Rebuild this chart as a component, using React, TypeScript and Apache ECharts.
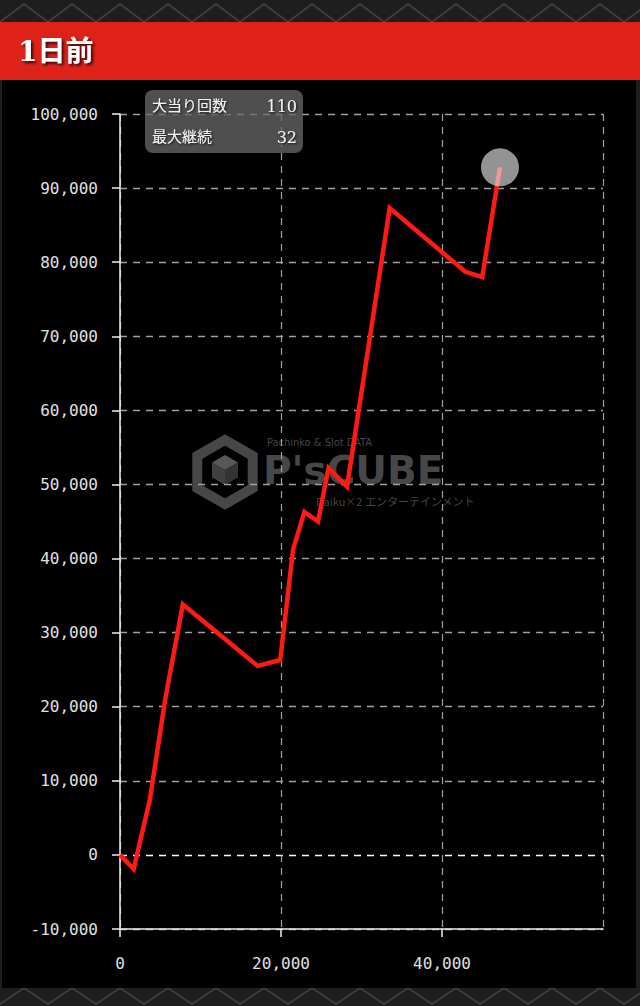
import React, { useEffect, useRef } from 'react';
import * as echarts from 'echarts';

// ---- data ----
const spins = [0, 1700, 3700, 5600, 7800, 12400, 17100, 19900, 21500, 22900, 24600, 25900, 28200, 33500, 42900, 45000, 47200];
const diff = [0, -1900, 7400, 20900, 33800, 29700, 25500, 26300, 41200, 46300, 45000, 52200, 49700, 87300, 78700, 78000, 92800];
const xRange = [0, 60000];
const xInterval = 20000;
const yRange = [-10000, 100000];
const yInterval = 10000;
const title = '1日前';
const statLabels = ['大当り回数', '最大継続'];
const statValues = ['110', '32'];

const fmt = (v: number) => String(v).replace(/\B(?=(\d{3})+(?!\d))/g, ',');

function zigzag(y0: number, y1: number, period: number) {
  const pts: number[][] = [];
  for (let x = -period, i = 0; x <= 640 + period; x += period / 2, i++) {
    pts.push([x, i % 2 === 0 ? y1 : y0]);
  }
  return pts;
}

function hexPoints(cx: number, cy: number, r: number) {
  const pts: number[][] = [];
  for (let k = 0; k < 6; k++) {
    const a = ((-90 + 60 * k) * Math.PI) / 180;
    pts.push([cx + r * Math.cos(a), cy + r * Math.sin(a)]);
  }
  return pts;
}

export default function App() {
  const ref = useRef<HTMLDivElement>(null);
  useEffect(() => {
    document.body.style.margin = '0';
    const chart = echarts.init(ref.current!, undefined, { renderer: 'svg' });
    const mono = "'DejaVu Sans Mono', monospace";
    const serif = "'DejaVu Serif', 'Noto Sans CJK JP', serif";
    const wm = 'rgba(95,95,95,0.75)';
    const cx = 225, cy = 472;
    const inner = hexPoints(cx, cy - 2, 15);
    const c = [cx, cy - 2];
    // split-line colours: the line at value 0 is white, the rest grey
    const nLines = Math.round((yRange[1] - yRange[0]) / yInterval) + 1;
    const ySplitColors = Array.from({ length: nLines }, (_, i) =>
      yRange[0] + i * yInterval === 0 ? '#ffffff' : '#a0a0a0'
    );
    const option: any = {
      animation: false,
      backgroundColor: '#1c1c1c',
      graphic: [
        { type: 'rect', z: -20, silent: true, shape: { x: 0, y: 0, width: 640, height: 1006 }, style: { fill: '#1e1e1e' } },
        { type: 'polyline', z: -19, silent: true, shape: { points: zigzag(4, 22, 48) }, style: { stroke: '#3c3c3c', lineWidth: 2, fill: null } },
        { type: 'polyline', z: -19, silent: true, shape: { points: zigzag(988, 1004, 48) }, style: { stroke: '#3c3c3c', lineWidth: 2, fill: null } },
        { type: 'rect', z: -18, silent: true, shape: { x: 2, y: 78, width: 634, height: 910 }, style: { fill: '#000' } },
        { type: 'rect', z: -17, silent: true, shape: { x: 0, y: 22, width: 640, height: 58 }, style: { fill: '#df2219' } },
        {
          type: 'text', z: 10, silent: true, x: 18, y: 51,
          style: { text: title, fill: '#fff', font: `bold 28px ${serif}`, verticalAlign: 'middle', textShadowColor: 'rgba(0,0,0,0.8)', textShadowBlur: 3, textShadowOffsetX: 2, textShadowOffsetY: 2 },
        },
        // watermark
        { type: 'polygon', z: -5, silent: true, shape: { points: hexPoints(cx, cy, 32) }, style: { stroke: wm, lineWidth: 10, fill: null } },
        { type: 'polygon', z: -5, silent: true, shape: { points: [inner[0], inner[1], c, inner[5]] }, style: { fill: 'rgba(110,110,110,0.8)' } },
        { type: 'polygon', z: -5, silent: true, shape: { points: [inner[5], c, inner[3], inner[4]] }, style: { fill: 'rgba(80,80,80,0.8)' } },
        { type: 'polygon', z: -5, silent: true, shape: { points: [c, inner[1], inner[2], inner[3]] }, style: { fill: 'rgba(65,65,65,0.8)' } },
        { type: 'text', z: -5, silent: true, x: 267, y: 442, style: { text: 'Pachinko & Slot DATA', fill: wm, font: "11px 'DejaVu Sans Condensed', 'DejaVu Sans', sans-serif", lineHeight: 11, verticalAlign: 'middle' } },
        { type: 'text', z: -5, silent: true, x: 263, y: 470, style: { text: "P'sCUBE", fill: wm, font: "bold 39px 'DejaVu Sans', sans-serif", lineHeight: 30, verticalAlign: 'middle' } },
        { type: 'text', z: -5, silent: true, x: 316, y: 501, style: { text: 'Daiku×2 エンターテインメント', fill: wm, font: "11px 'Noto Sans CJK JP', sans-serif", lineHeight: 12, verticalAlign: 'middle' } },
        // stats box
        { type: 'rect', z: 20, silent: true, shape: { x: 145, y: 90, width: 158, height: 63, r: 8 }, style: { fill: 'rgba(105,105,105,0.75)' } },
        ...statLabels.flatMap((lab, i) => [
          { type: 'text', z: 21, silent: true, x: 152, y: 106 + i * 31, style: { text: lab, fill: '#f2f2f2', font: `15px ${serif}`, verticalAlign: 'middle', textShadowColor: 'rgba(0,0,0,0.8)', textShadowBlur: 2, textShadowOffsetX: 1, textShadowOffsetY: 1 } },
          { type: 'text', z: 21, silent: true, x: 297, y: 106 + i * 31, style: { text: statValues[i], fill: '#f2f2f2', font: `16px ${serif}`, align: 'right', verticalAlign: 'middle', textShadowColor: 'rgba(0,0,0,0.8)', textShadowBlur: 2, textShadowOffsetX: 1, textShadowOffsetY: 1 } },
        ]),
      ],
      grid: { left: 120, right: 37, top: 114, bottom: 77, containLabel: false },
      xAxis: {
        type: 'value', min: xRange[0], max: xRange[1], interval: xInterval,
        axisLine: { show: true, onZero: false, lineStyle: { color: '#f0f0f0', width: 1.5 } },
        axisTick: { show: true, length: 8, lineStyle: { color: '#f0f0f0', width: 1.5 } },
        axisLabel: { color: '#e0e0e0', fontFamily: mono, fontSize: 16, margin: 26, showMaxLabel: false, formatter: fmt },
        splitLine: { show: true, lineStyle: { color: '#a0a0a0', type: [7, 6], width: 1.2 } },
      },
      yAxis: {
        type: 'value', min: yRange[0], max: yRange[1], interval: yInterval,
        axisLine: { show: true, onZero: false, lineStyle: { color: '#f0f0f0', width: 1.5 } },
        axisTick: { show: true, length: 8, lineStyle: { color: '#f0f0f0', width: 1.5 } },
        axisLabel: { color: '#e0e0e0', fontFamily: mono, fontSize: 16, margin: 22, formatter: fmt },
        splitLine: { show: true, lineStyle: { color: ySplitColors, type: [7, 6], width: 1.4 } },
      },
      series: [
        {
          type: 'line', z: 5, silent: true, showSymbol: false,
          data: spins.map((x, i) => [x, diff[i]]),
          lineStyle: { color: '#ff1a14', width: 4.5, join: 'miter' },
        },
        {
          type: 'scatter', z: 6, silent: true, symbolSize: 38,
          data: [[spins[spins.length - 1], diff[diff.length - 1]]],
          itemStyle: { color: 'rgba(225,225,225,0.82)' },
        },
      ],
    };
    chart.setOption(option);
    return () => chart.dispose();
  }, []);
  return <div ref={ref} style={{ position: 'absolute', left: 0, top: 0, width: 640, height: 1006 }} />;
}
